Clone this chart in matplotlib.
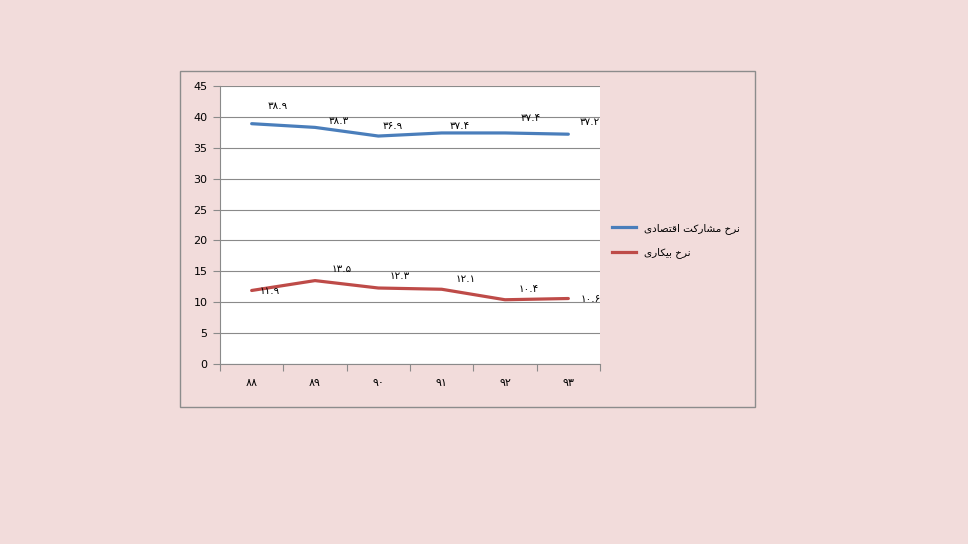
import matplotlib
matplotlib.use("Agg")
import matplotlib.pyplot as plt
from matplotlib.patches import Rectangle
from matplotlib.lines import Line2D

# ---------------- data ----------------
categories = ["۸۸", "۸۹", "۹۰", "۹۱", "۹۲", "۹۳"]
participation = [38.9, 38.3, 36.9, 37.4, 37.4, 37.2]
unemployment = [11.9, 13.5, 12.3, 12.1, 10.4, 10.6]
series_names = ["نرخ مشارکت اقتصادی", "نرخ بیکاری"]
yticks = [0, 5, 10, 15, 20, 25, 30, 35, 40, 45]

# ---------------- simple Arabic/Persian shaping ----------------
FORMS = {  # iso, fin, ini, med
    "ا": ("\uFE8D", "\uFE8E", None, None),
    "ب": ("\uFE8F", "\uFE90", "\uFE91", "\uFE92"),
    "ت": ("\uFE95", "\uFE96", "\uFE97", "\uFE98"),
    "خ": ("\uFEA5", "\uFEA6", "\uFEA7", "\uFEA8"),
    "د": ("\uFEA9", "\uFEAA", None, None),
    "ر": ("\uFEAD", "\uFEAE", None, None),
    "ش": ("\uFEB5", "\uFEB6", "\uFEB7", "\uFEB8"),
    "ص": ("\uFEB9", "\uFEBA", "\uFEBB", "\uFEBC"),
    "ق": ("\uFED5", "\uFED6", "\uFED7", "\uFED8"),
    "م": ("\uFEE1", "\uFEE2", "\uFEE3", "\uFEE4"),
    "ن": ("\uFEE5", "\uFEE6", "\uFEE7", "\uFEE8"),
    "ک": ("\uFB8E", "\uFB8F", "\uFB90", "\uFB91"),
    "ی": ("\uFBFC", "\uFBFD", "\uFBFE", "\uFBFF"),
}


def dual(c):
    return c in FORMS and FORMS[c][2] is not None


def shape(text):
    out = []
    n = len(text)
    for i, c in enumerate(text):
        if c not in FORMS:
            out.append(c)
            continue
        prev = text[i - 1] if i > 0 else ""
        nxt = text[i + 1] if i + 1 < n else ""
        join_prev = dual(prev)
        join_next = dual(c) and nxt in FORMS
        iso, fin, ini, med = FORMS[c]
        if join_prev and join_next:
            out.append(med)
        elif join_prev:
            out.append(fin)
        elif join_next:
            out.append(ini)
        else:
            out.append(iso)
    return "".join(reversed(out))


def fa_num(v):
    digits = "۰۱۲۳۴۵۶۷۸۹"
    s = f"{v:.1f}"
    return "".join(digits[int(ch)] if ch.isdigit() else ch for ch in s)


# ---------------- figure ----------------
BG = "#F2DCDB"
W, H = 968, 544
fig = plt.figure(figsize=(W / 100, H / 100), dpi=100, facecolor=BG)
plt.rcParams["font.family"] = ["DejaVu Sans"]

# outer chart box
fig.patches.append(Rectangle((180 / W, 1 - 407 / H), (755 - 180) / W, (407 - 71) / H,
                             transform=fig.transFigure, facecolor=BG,
                             edgecolor="#8C8C8C", linewidth=1.0, zorder=-5))

ax = fig.add_axes([220 / W, 1 - 364 / H, (600 - 220) / W, (364 - 86) / H])
ax.set_zorder(2)
ax.set_facecolor("white")

x = list(range(len(categories)))
blue = "#4A7EBB"
red = "#BE4B48"
lw = 2.3
ax.plot(x, participation, color=blue, lw=lw, solid_capstyle="round", zorder=3)
ax.plot(x, unemployment, color=red, lw=lw, solid_capstyle="round", zorder=3)

ax.set_xlim(-0.5, len(categories) - 0.5)
ax.set_ylim(0, 45)
ax.set_yticks(yticks)
ax.yaxis.grid(True, color="#8A8A8A", lw=0.8)
ax.set_axisbelow(True)

# x ticks at boundaries, labels at centers
ax.set_xticks([i - 0.5 for i in range(len(categories) + 1)])
ax.set_xticklabels([])
ax.set_xticks(x, minor=True)
ax.set_xticklabels(categories, minor=True, fontsize=8)
ax.tick_params(axis="x", which="major", length=5, color="#8A8A8A", direction="out")
ax.tick_params(axis="x", which="minor", length=0, pad=10)
ax.tick_params(axis="y", length=5, color="#8A8A8A", labelsize=8, pad=4)

for s in ["top", "right"]:
    ax.spines[s].set_visible(False)
for s in ["left", "bottom"]:
    ax.spines[s].set_color("#8A8A8A")
    ax.spines[s].set_linewidth(0.8)

# data labels
blue_off = [(26, 18), (24, 6), (14, 10), (18, 7), (26, 15), (21, 12)]
red_off = [(18, -1), (27, 12), (21, 12), (24, 10), (24, 11), (22, 0)]
for i, v in enumerate(participation):
    ax.annotate(fa_num(v), (i, v), xytext=blue_off[i], textcoords="offset pixels",
                ha="center", va="center", fontsize=7.5, zorder=4, annotation_clip=False)
for i, v in enumerate(unemployment):
    ax.annotate(fa_num(v), (i, v), xytext=red_off[i], textcoords="offset pixels",
                ha="center", va="center", fontsize=7.5, zorder=4, annotation_clip=False)

# legend
handles = [Line2D([0], [0], color=blue, lw=lw), Line2D([0], [0], color=red, lw=lw)]
labels = [shape(n) for n in series_names]
fig.legend(handles, labels, loc="upper left", bbox_to_anchor=(612 / W, 1 - 223 / H),
           frameon=False, fontsize=7.5, handlelength=2.3, handletextpad=0.8,
           labelspacing=1.3, borderaxespad=0, borderpad=0)

fig.savefig("out.png", dpi=100, facecolor=BG)
